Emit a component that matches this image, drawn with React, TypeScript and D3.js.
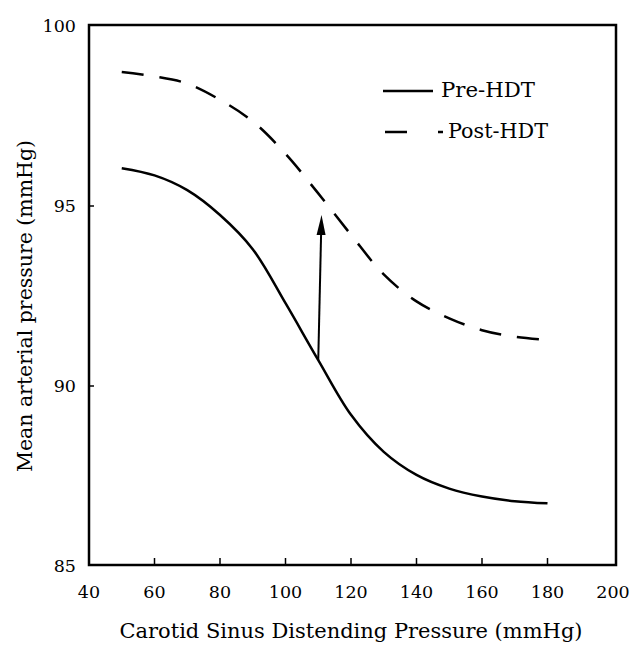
import React from "react";
import * as d3 from "d3";

const xValues = [50, 60, 70, 80, 90, 100, 110, 120, 130, 140, 150, 160, 170, 180];
const preHDT = [96.05, 95.85, 95.44, 94.75, 93.8, 92.3, 90.72, 89.2, 88.17, 87.53, 87.15, 86.93, 86.8, 86.74];
const postHDT = [98.72, 98.6, 98.4, 97.95, 97.35, 96.45, 95.35, 94.2, 93.1, 92.35, 91.88, 91.55, 91.37, 91.28];
const xTicks = [40, 60, 80, 100, 120, 140, 160, 180, 200];
const yTicks = [85, 90, 95, 100];
const arrowFrom = [110, 90.72];
const arrowTo = [111, 94.75];
const seriesNames = ["Pre-HDT", "Post-HDT"];
const xTitle = "Carotid Sinus Distending Pressure (mmHg)";
const yTitle = "Mean arterial pressure (mmHg)";

const W = 634;
const H = 647;
const L = 89, R = 613, T = 26, B = 566;
const FONT = "'DejaVu Serif', serif";

export default function App() {
  const x = d3.scaleLinear().domain([40, 200]).range([L, R]);
  const y = d3.scaleLinear().domain([85, 100]).range([B, T]);
  const line = d3
    .line<number>()
    .x((_, i) => x(xValues[i]))
    .y((d) => y(d))
    .curve(d3.curveCatmullRom.alpha(0.5));

  const ax0 = x(arrowFrom[0]), ay0 = y(arrowFrom[1]);
  const ax1 = x(arrowTo[0]), ay1 = y(arrowTo[1]);
  const ang = Math.atan2(ay1 - ay0, ax1 - ax0);
  const headLen = 20, headW = 4.5;
  const bx = ax1 - headLen * Math.cos(ang), by = ay1 - headLen * Math.sin(ang);
  const px = -Math.sin(ang), py = Math.cos(ang);
  const head = `M${ax1},${ay1} L${bx + px * headW},${by + py * headW} L${bx - px * headW},${by - py * headW} Z`;

  return (
    <svg width={W} height={H} style={{ position: "absolute", left: 0, top: 0, background: "#fff" }}>
      <rect x={0} y={0} width={W} height={H} fill="#fff" />
      {/* frame */}
      <rect x={L} y={T - 1} width={R + 3 - L} height={B - T} fill="none" stroke="#000" strokeWidth={2.5} />
      {/* bottom ticks */}
      {xTicks.slice(1, -1).map((t) => (
        <line key={"xt" + t} x1={x(t)} x2={x(t)} y1={B - 1} y2={B - 8} stroke="#000" strokeWidth={1.5} />
      ))}
      {xTicks.map((t) => (
        <text key={"xl" + t} x={x(t)} y={598} textAnchor="middle" fontFamily={FONT} fontSize={17.5} fill="#000">
          {t}
        </text>
      ))}
      {/* left ticks */}
      {yTicks.slice(1, -1).map((t) => (
        <line key={"yt" + t} x1={L} x2={L + 5} y1={y(t)} y2={y(t)} stroke="#000" strokeWidth={1.5} />
      ))}
      {yTicks.map((t) => (
        <text key={"yl" + t} x={76} y={y(t)} dy="0.36em" textAnchor="end" fontFamily={FONT} fontSize={17.5} fill="#000">
          {t}
        </text>
      ))}
      {/* titles */}
      <text
        x={(L + R) / 2}
        y={638}
        textAnchor="middle"
        fontFamily={FONT}
        fontSize={20}
        textLength={463}
        lengthAdjust="spacingAndGlyphs"
        fill="#000"
      >
        {xTitle}
      </text>
      <text
        transform={`translate(32,306) rotate(-90)`}
        textAnchor="middle"
        fontFamily={FONT}
        fontSize={20}
        textLength={332}
        lengthAdjust="spacingAndGlyphs"
        fill="#000"
      >
        {yTitle}
      </text>
      {/* curves */}
      <path d={line(preHDT) || ""} fill="none" stroke="#000" strokeWidth={2.5} />
      <path d={line(postHDT) || ""} fill="none" stroke="#000" strokeWidth={2.5} strokeDasharray="22 16" />
      {/* arrow */}
      <line x1={ax0} y1={ay0} x2={bx} y2={by} stroke="#000" strokeWidth={2} />
      <path d={head} fill="#000" />
      {/* legend */}
      <line x1={383} x2={433} y1={91} y2={91} stroke="#000" strokeWidth={2.5} />
      <text x={441} y={97} fontFamily={FONT} fontSize={20} textLength={94} lengthAdjust="spacingAndGlyphs" fill="#000">
        {seriesNames[0]}
      </text>
      <line x1={385} x2={443} y1={132} y2={132} stroke="#000" strokeWidth={2.5} strokeDasharray="22 31" />
      <text x={448} y={138} fontFamily={FONT} fontSize={20} textLength={100} lengthAdjust="spacingAndGlyphs" fill="#000">
        {seriesNames[1]}
      </text>
    </svg>
  );
}
